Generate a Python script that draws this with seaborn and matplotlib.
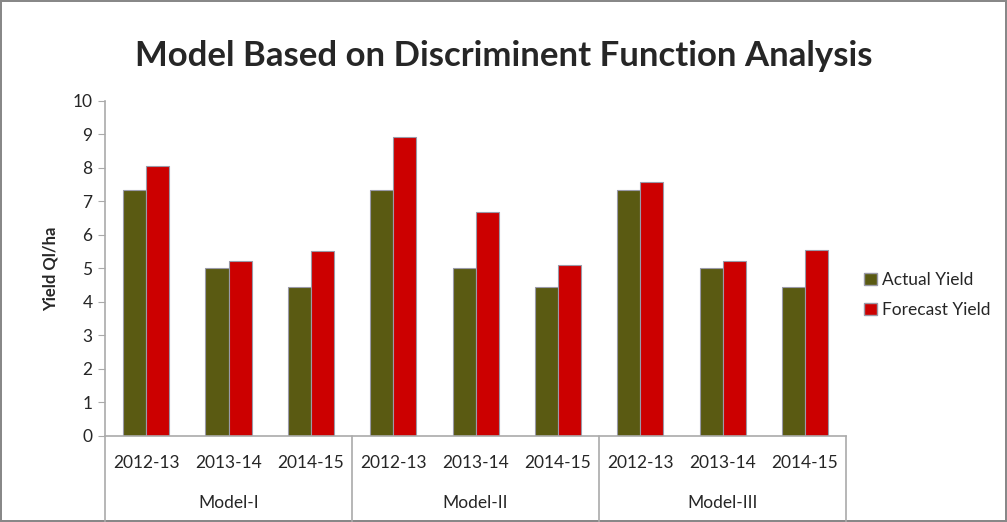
import matplotlib
matplotlib.use("Agg")
import matplotlib.pyplot as plt
import seaborn as sns
import pandas as pd
from matplotlib.patches import Patch
from matplotlib.lines import Line2D

models = ["Model-I", "Model-II", "Model-III"]
years = ["2012-13", "2013-14", "2014-15"]
actual = [7.35, 5.0, 4.45, 7.35, 5.0, 4.45, 7.35, 5.0, 4.45]
forecast = [8.07, 5.23, 5.53, 8.93, 6.69, 5.11, 7.58, 5.21, 5.56]
series_names = ["Actual Yield", "Forecast Yield"]
colors = ["#5a5a12", "#cc0000"]

rows = []
i = 0
for m in models:
    for y in years:
        slot = f"{m}|{y}"
        rows.append({"slot": slot, "series": series_names[0], "value": actual[i]})
        rows.append({"slot": slot, "series": series_names[1], "value": forecast[i]})
        i += 1
df = pd.DataFrame(rows)
slots = [f"{m}|{y}" for m in models for y in years]

sns.set_style("white")
plt.rcParams['font.family'] = ['Lato', 'DejaVu Sans']

fig = plt.figure(figsize=(10.07, 5.22), dpi=100)
fig.patch.set_edgecolor("#888888")
fig.patch.set_linewidth(1.5)
ax = fig.add_axes([0.1043, 0.1648, 0.7359, 0.6418])

sns.barplot(data=df, x="slot", y="value", hue="series", order=slots,
            hue_order=series_names, palette=colors, saturation=1, width=0.56, ax=ax,
            edgecolor="#9a9aa8", linewidth=0.8, legend=False)

ax.set_ylim(0, 10)
ax.set_xlim(-0.5, 8.5)
ax.set_yticks(range(0, 11))
ax.tick_params(axis="y", labelsize=12.5, length=5, left=True, color="#aaaaaa", pad=4)
ax.tick_params(axis="x", length=0, labelsize=12.5, pad=14)
ax.set_xticks(range(9))
ax.set_xticklabels([y for m in models for y in years])
ax.set_xlabel("")
ax.set_ylabel("Yield Ql/ha", fontsize=12, fontweight="bold", labelpad=10)
for s in ["top", "right"]:
    ax.spines[s].set_visible(False)
for s in ["left", "bottom"]:
    ax.spines[s].set_color("#aaaaaa")
    ax.spines[s].set_linewidth(1.2)

# group separators and model labels
for k in range(4):
    xpos = -0.5 + 3 * k
    ax.add_line(Line2D([xpos, xpos], [0, -0.26], transform=ax.get_xaxis_transform(),
                       color="#aaaaaa", lw=1.2, clip_on=False))
for k, m in enumerate(models):
    ax.text(3 * k + 1, -0.2, m, transform=ax.get_xaxis_transform(),
            ha="center", va="center", fontsize=12.5)

fig.text(0.5, 0.893, "Model Based on Discriminent Function Analysis",
         ha="center", va="center", fontsize=25, fontweight="bold")

handles = [Patch(facecolor=c, edgecolor="#9a9aa8") for c in colors]
fig.legend(handles, series_names, loc="center left", bbox_to_anchor=(0.848, 0.435),
           frameon=False, fontsize=12.5, handlelength=0.7, handleheight=0.7,
           handletextpad=0.3, labelspacing=0.8, borderaxespad=0.2)

fig.savefig("out.png", dpi=100)
